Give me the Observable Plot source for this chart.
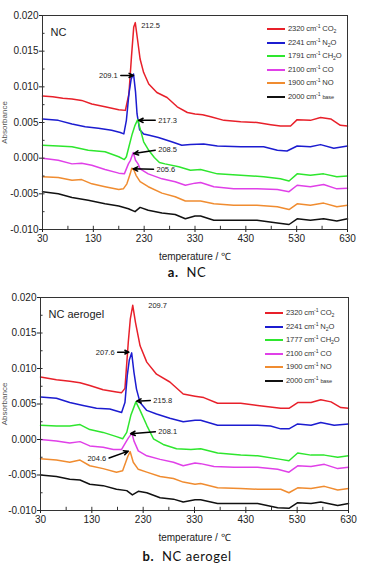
<!DOCTYPE html>
<html><head><meta charset="utf-8">
<script src="https://cdn.jsdelivr.net/npm/d3@7"></script>
<script src="https://cdn.jsdelivr.net/npm/@observablehq/plot@0.6"></script>
<style>
html,body{margin:0;padding:0;background:#fff;}
body{position:relative;width:374px;height:568px;overflow:hidden;font-family:"Liberation Sans",Arial,sans-serif;}
.panel{position:absolute;left:0;width:374px;}
.cap{position:absolute;left:0;width:374px;text-align:center;font-family:Lato,"Open Sans",sans-serif;font-size:13px;line-height:16px;color:#111;letter-spacing:0.6px}
.lg-line{position:absolute;height:2px;width:18px;}
.lg-text{position:absolute;font-size:7.6px;line-height:10px;color:#333;white-space:nowrap;letter-spacing:-0.15px}
.lg-text sup{font-size:5.2px;vertical-align:3px;line-height:0}
.lg-text sub{font-size:5.2px;vertical-align:-1.5px;line-height:0}
.lg-text small{font-size:5.6px}
</style></head>
<body>
<div id="pa" class="panel" style="top:0px"></div>
<div class="cap" style="top:264px"><b>a.</b>&nbsp; NC</div>
<div id="pb" class="panel" style="top:282px"></div>
<div class="cap" style="top:548px"><b>b.</b>&nbsp; NC aerogel</div>
<script>
// ---------- tick labels ----------
const xTicks = [30, 130, 230, 330, 430, 530, 630];
const yTicks = [-0.010, -0.005, 0.000, 0.005, 0.010, 0.015, 0.020];
const xMinor = [30, 80, 130, 180, 230, 280, 330, 380, 430, 480, 530, 580, 630];
const yMinor = [-0.010, -0.0075, -0.005, -0.0025, 0, 0.0025, 0.005, 0.0075, 0.010, 0.0125, 0.015, 0.0175, 0.020];

// ---------- series ----------
const seriesKeys = ["CO2", "N2O", "CH2O", "CO", "NO", "base"];
const seriesColors = ["#e8202a", "#1c1cd0", "#2ee62e", "#e040e8", "#f08c30", "#111111"];
const speciesHTML = ["CO<sub>2</sub>", "N<sub>2</sub>O", "CH<sub>2</sub>O", "CO", "NO", "<small>base</small>"];
const ncWavenumbers = ["2320", "2241", "1791", "2100", "1900", "2000"];
const aeroWavenumbers = ["2320", "2241", "1777", "2100", "1900", "2000"];

// ---------- panel a: NC ----------
const nc_CO2_T = [30, 50, 70, 88, 107, 127, 153, 180, 193, 200, 205, 209.5, 212.5, 217, 222, 229, 239, 255, 275, 295, 315, 330, 345, 361, 387, 420, 452, 479, 498, 518, 531, 557, 577, 597, 616, 630];
const nc_CO2_V = [0.0087, 0.0086, 0.0084, 0.0083, 0.0081, 0.0076, 0.0072, 0.0068, 0.0067, 0.0090, 0.0142, 0.0184, 0.0190, 0.0166, 0.0139, 0.0120, 0.0104, 0.0092, 0.0085, 0.0072, 0.0064, 0.0062, 0.0061, 0.0058, 0.0053, 0.0051, 0.0050, 0.0047, 0.0045, 0.0045, 0.0054, 0.0053, 0.0057, 0.0055, 0.0046, 0.0045];
const nc_N2O_T = [30, 61, 88, 114, 140, 166, 183, 190, 195, 200, 204.5, 209.1, 213, 216, 221, 229, 240, 258, 284, 304, 321, 347, 374, 420, 465, 492, 511, 531, 557, 577, 603, 630];
const nc_N2O_V = [0.0055, 0.0053, 0.0048, 0.0044, 0.0042, 0.0039, 0.0036, 0.0034, 0.0053, 0.0090, 0.0111, 0.0118, 0.0093, 0.0062, 0.0040, 0.0034, 0.0032, 0.0029, 0.0023, 0.0018, 0.0019, 0.0020, 0.0017, 0.0016, 0.0016, 0.0011, 0.0010, 0.0017, 0.0016, 0.0019, 0.0014, 0.0017];
const nc_CH2O_T = [30, 61, 88, 120, 153, 180, 191, 195, 200, 206.5, 212, 217.3, 223, 229, 239, 250, 260, 271, 298, 321, 341, 374, 420, 465, 498, 515, 531, 557, 583, 609, 630];
const nc_CH2O_V = [0.0018, 0.0017, 0.0016, 0.0011, 0.0009, 0.0002, -0.0002, 0.0002, 0.0016, 0.0034, 0.0046, 0.0054, 0.0039, 0.0023, 0.0011, 0.0001, -0.0006, -0.0008, -0.0012, -0.0017, -0.0016, -0.0022, -0.0024, -0.0026, -0.0029, -0.0032, -0.0022, -0.0024, -0.0022, -0.0026, -0.0025];
const nc_CO_T = [30, 61, 88, 107, 127, 153, 180, 191, 199, 203, 208.5, 213, 218, 222, 238, 265, 291, 311, 330, 341, 367, 406, 452, 492, 515, 531, 557, 583, 609, 630];
const nc_CO_V = [0.0000, -0.0003, -0.0008, -0.0007, -0.0010, -0.0016, -0.0021, -0.0022, -0.0008, -0.0003, 0.0008, -0.0003, -0.0008, -0.0015, -0.0022, -0.0029, -0.0033, -0.0038, -0.0035, -0.0034, -0.0040, -0.0043, -0.0043, -0.0044, -0.0047, -0.0038, -0.0040, -0.0037, -0.0043, -0.0042];
const nc_NO_T = [30, 61, 88, 107, 127, 153, 180, 189, 196, 202.5, 205.6, 210, 214, 222, 238, 265, 291, 311, 330, 341, 367, 406, 452, 492, 515, 531, 557, 583, 609, 630];
const nc_NO_V = [-0.0026, -0.0027, -0.0031, -0.0030, -0.0036, -0.0040, -0.0044, -0.0043, -0.0036, -0.0022, -0.0014, -0.0017, -0.0024, -0.0033, -0.0040, -0.0049, -0.0054, -0.0060, -0.0060, -0.0060, -0.0064, -0.0066, -0.0066, -0.0068, -0.0072, -0.0064, -0.0066, -0.0063, -0.0068, -0.0066];
const nc_base_T = [30, 61, 88, 120, 153, 180, 199, 212, 222, 238, 265, 291, 311, 330, 341, 367, 406, 452, 492, 515, 531, 557, 583, 609, 630];
const nc_base_V = [-0.0047, -0.0050, -0.0055, -0.0059, -0.0064, -0.0067, -0.0071, -0.0075, -0.0069, -0.0073, -0.0077, -0.0079, -0.0085, -0.0081, -0.0081, -0.0087, -0.0087, -0.0087, -0.0091, -0.0093, -0.0085, -0.0087, -0.0085, -0.0088, -0.0085];

// peak annotations (label, peak point, label point)
const ncPeakLabels = ["212.5", "209.1", "217.3", "208.5", "205.6"];
const ncPeakT = [212.5, 209.1, 219.0, 209.6, 208.3];
const ncPeakV = [0.0190, 0.0116, 0.0053, 0.00064, -0.0015];
const ncLabelT = [222.2, 180.1, 255.7, 255.7, 252.3];
const ncLabelV = [0.0186, 0.0116, 0.0053, 0.00117, -0.00156];
const ncLabelSide = ["start", "end", "start", "start", "start"];
const ncHasArrow = [false, true, true, true, true];

// ---------- panel b: NC aerogel ----------
const ae_CO2_T = [30, 61, 87, 107, 126, 152, 178, 188, 194.5, 201, 205, 209.7, 215, 224, 237, 256, 282, 308, 331, 348, 375, 420, 453, 498, 514, 531, 557, 576, 596, 615, 630];
const ae_CO2_V = [0.0088, 0.0084, 0.0082, 0.0080, 0.0076, 0.0070, 0.0067, 0.0066, 0.0072, 0.0137, 0.0170, 0.0189, 0.0165, 0.0132, 0.0109, 0.0092, 0.0081, 0.0064, 0.0061, 0.0059, 0.0051, 0.0051, 0.0048, 0.0044, 0.0044, 0.0052, 0.0052, 0.0056, 0.0053, 0.0045, 0.0044];
const ae_N2O_T = [30, 61, 87, 113, 139, 165, 188, 194.5, 199, 203, 207.6, 212, 217, 224, 237, 256, 282, 308, 331, 342, 375, 420, 453, 478, 498, 514, 531, 557, 576, 602, 630];
const ae_N2O_V = [0.0060, 0.0058, 0.0052, 0.0048, 0.0044, 0.0043, 0.0038, 0.0052, 0.0090, 0.0112, 0.0122, 0.0095, 0.0071, 0.0052, 0.0041, 0.0036, 0.0030, 0.0025, 0.0027, 0.0027, 0.0020, 0.0020, 0.0020, 0.0019, 0.0015, 0.0015, 0.0022, 0.0020, 0.0024, 0.0020, 0.0022];
const ae_CH2O_T = [30, 61, 87, 107, 126, 152, 178, 190, 198, 206, 215.8, 224, 237, 250, 269, 295, 323, 342, 375, 420, 453, 498, 514, 531, 557, 583, 609, 630];
const ae_CH2O_V = [0.0020, 0.0019, 0.0019, 0.0021, 0.0014, 0.0010, 0.0004, 0.0001, 0.0010, 0.0034, 0.0053, 0.0041, 0.0020, 0.0001, -0.0007, -0.0013, -0.0014, -0.0013, -0.0019, -0.0022, -0.0023, -0.0028, -0.0030, -0.0019, -0.0022, -0.0022, -0.0025, -0.0023];
const ae_CO_T = [30, 61, 87, 107, 126, 152, 172, 188, 196, 201, 208.1, 212, 220.5, 237, 263, 289, 308, 331, 342, 368, 407, 453, 492, 514, 531, 557, 583, 609, 630];
const ae_CO_V = [0.0000, -0.0002, -0.0005, -0.0003, -0.0009, -0.0011, -0.0014, -0.0014, -0.0004, 0.0002, 0.0009, -0.0002, -0.0016, -0.0023, -0.0028, -0.0032, -0.0037, -0.0033, -0.0034, -0.0038, -0.0039, -0.0039, -0.0042, -0.0046, -0.0037, -0.0038, -0.0035, -0.0041, -0.0039];
const ae_NO_T = [30, 61, 87, 107, 126, 152, 178, 190, 196, 200, 204.6, 210.7, 220.5, 237, 263, 289, 308, 331, 342, 375, 420, 453, 498, 514, 531, 557, 583, 609, 630];
const ae_NO_V = [-0.0027, -0.0029, -0.0032, -0.0029, -0.0037, -0.0041, -0.0046, -0.0044, -0.0032, -0.0024, -0.0017, -0.0032, -0.0042, -0.0046, -0.0052, -0.0055, -0.0060, -0.0063, -0.0062, -0.0068, -0.0069, -0.0070, -0.0070, -0.0075, -0.0068, -0.0069, -0.0066, -0.0071, -0.0069];
const ae_base_T = [30, 61, 87, 107, 126, 152, 178, 198, 209, 220.5, 237, 263, 289, 308, 331, 342, 375, 420, 453, 492, 514, 531, 557, 576, 609, 630];
const ae_base_V = [-0.0050, -0.0052, -0.0056, -0.0057, -0.0063, -0.0065, -0.0070, -0.0072, -0.0078, -0.0073, -0.0075, -0.0082, -0.0084, -0.0088, -0.0085, -0.0085, -0.0090, -0.0090, -0.0090, -0.0096, -0.0097, -0.0089, -0.0090, -0.0088, -0.0093, -0.0090];

const aePeakLabels = ["209.7", "207.6", "215.8", "208.1", "204.6"];
const aePeakT = [209.7, 202.2, 217.2, 205.5, 201.0];
const aePeakV = [0.0189, 0.0123, 0.0054, 0.00082, -0.00164];
const aeLabelT = [238.0, 176.3, 247.8, 257.6, 160.0];
const aeLabelV = [0.0189, 0.0123, 0.0055, 0.0011, -0.00271];
const aeLabelSide = ["start", "end", "start", "start", "end"];
const aeHasArrow = [false, true, true, true, true];

// ---------- build ----------
function buildRows(Ts, Vs) {
  const rows = [];
  Ts.forEach((T, i) => T.forEach((t, j) => rows.push({T: t, V: Vs[i][j], key: seriesKeys[i]})));
  return rows;
}
function buildAnn(labels, pT, pV, lT, lV, side, arrow) {
  return labels.map((l, i) => ({label: l, px: pT[i], py: pV[i], tx: lT[i], ty: lV[i], side: side[i], arrow: arrow[i]}));
}

function makePanel({rows, ann, name, marginLeft, marginRight, height, marginBottom}) {
  return Plot.plot({
    width: 374, height, marginTop: 15, marginLeft, marginRight, marginBottom,
    style: {fontFamily: "'Liberation Sans', Arial, sans-serif", fontSize: "10px", color: "#222", overflow: "visible", background: "transparent"},
    x: {domain: [30, 630]},
    y: {domain: [-0.010, 0.020]},
    color: {domain: seriesKeys, range: seriesColors},
    marks: [
      Plot.line(rows, {x: "T", y: "V", z: "key", stroke: "key", strokeWidth: 1.5, curve: "linear"}),
      Plot.ruleX(xMinor, {x: d => d, y1: -0.010, y2: -0.01045 + 0.0009, stroke: "#333", strokeWidth: 1}),
      Plot.ruleY(yMinor, {y: d => d, x1: 30, x2: 35, stroke: "#333", strokeWidth: 1}),
      Plot.frame({stroke: "#333", strokeWidth: 1}),
      Plot.axisX({ticks: xTicks, tickSize: 3, tickPadding: 2, fontSize: 10, label: "temperature / ℃", labelAnchor: "center", labelArrow: "none", labelOffset: 30}),
      Plot.axisY({ticks: yTicks, tickSize: 3, tickPadding: 1, fontSize: 10, tickFormat: d => d.toFixed(3), label: null}),
      Plot.axisY({ticks: [], tickSize: 0, label: "Absorbance", labelAnchor: "center", labelArrow: "none", labelOffset: marginLeft - 1, fontSize: 8, fill: "#555"}),
      Plot.text([name], {frameAnchor: "top-left", dx: 8, dy: 13, fontSize: 11, textAnchor: "start", fill: "#222"}),
      Plot.arrow(ann.filter(d => d.arrow), {x1: "tx", y1: "ty", x2: "px", y2: "py", insetStart: 2, stroke: "#000", strokeWidth: 1.5, headLength: 5, headAngle: 50}),
      Plot.text(ann.filter(d => d.side === "start"), {x: "tx", y: "ty", text: "label", textAnchor: "start", fontSize: 7.5, fill: "#222", dx: 1}),
      Plot.text(ann.filter(d => d.side === "end"), {x: "tx", y: "ty", text: "label", textAnchor: "end", fontSize: 7.5, fill: "#222", dx: -1})
    ]
  });
}

function addLegend(container, wavenumbers, lineLeft, textLeft, firstY, step) {
  seriesKeys.forEach((k, i) => {
    const y = Math.round(firstY + i * step);
    const ln = document.createElement("div");
    ln.className = "lg-line";
    ln.style.left = lineLeft + "px"; ln.style.top = (y - 1) + "px"; ln.style.background = seriesColors[i];
    container.appendChild(ln);
    const tx = document.createElement("div");
    tx.className = "lg-text";
    tx.style.left = textLeft + "px"; tx.style.top = (y - 5.5) + "px";
    tx.innerHTML = `${wavenumbers[i]} cm<sup>-1</sup> ${speciesHTML[i]}`;
    container.appendChild(tx);
  });
}

const pa = document.getElementById("pa");
pa.appendChild(makePanel({
  rows: buildRows([nc_CO2_T, nc_N2O_T, nc_CH2O_T, nc_CO_T, nc_NO_T, nc_base_T], [nc_CO2_V, nc_N2O_V, nc_CH2O_V, nc_CO_V, nc_NO_V, nc_base_V]),
  ann: buildAnn(ncPeakLabels, ncPeakT, ncPeakV, ncLabelT, ncLabelV, ncLabelSide, ncHasArrow),
  name: "NC", marginLeft: 42, marginRight: 27, height: 262, marginBottom: 33
}));
addLegend(pa, ncWavenumbers, 267, 288, 29.3, 13.5);

const pb = document.getElementById("pb");
pb.appendChild(makePanel({
  rows: buildRows([ae_CO2_T, ae_N2O_T, ae_CH2O_T, ae_CO_T, ae_NO_T, ae_base_T], [ae_CO2_V, ae_N2O_V, ae_CH2O_V, ae_CO_V, ae_NO_V, ae_base_V]),
  ann: buildAnn(aePeakLabels, aePeakT, aePeakV, aeLabelT, aeLabelV, aeLabelSide, aeHasArrow),
  name: "NC aerogel", marginLeft: 40, marginRight: 26, height: 258, marginBottom: 30
}));
addLegend(pb, aeroWavenumbers, 265, 286, 31.3, 13.5);
</script>
</body></html>
